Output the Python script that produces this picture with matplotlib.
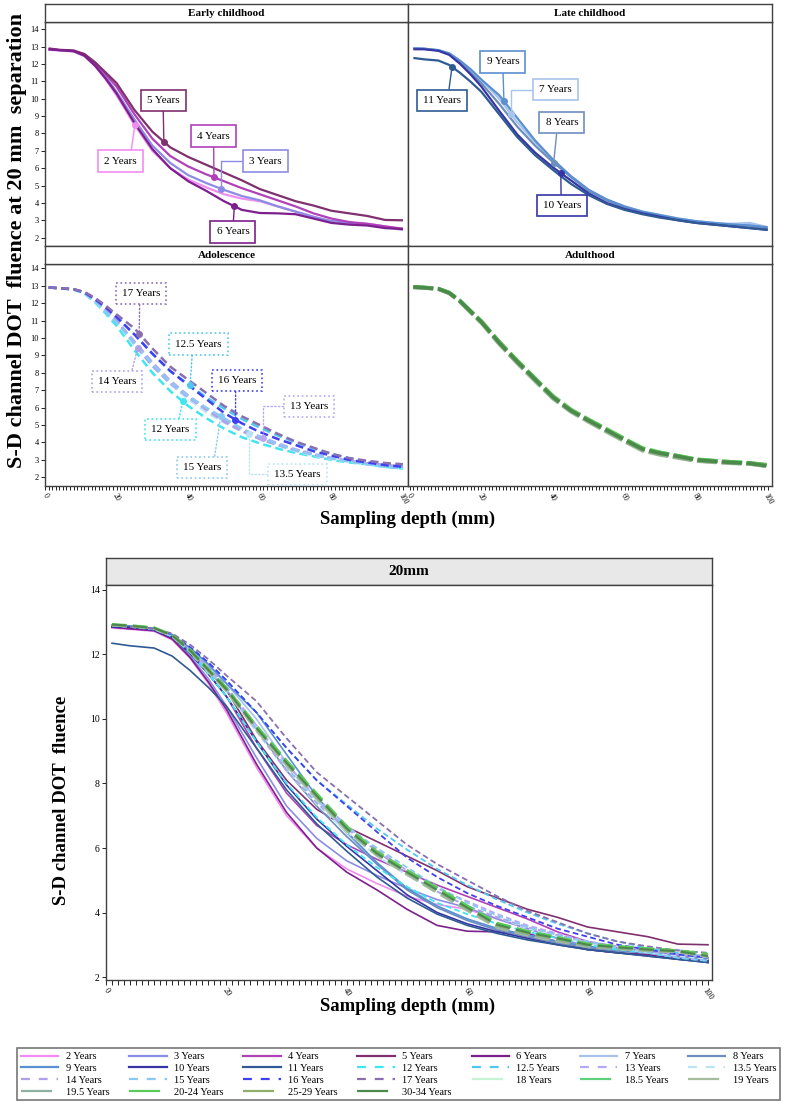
import numpy as np
import matplotlib.pyplot as plt
from matplotlib.lines import Line2D

plt.rcParams['font.family'] = ['Liberation Serif', 'DejaVu Serif']

# sampling depth (mm) at which the curves were read
depth = [1, 4, 8, 11, 14, 17, 20, 25, 30, 35, 40, 45, 50, 55, 60, 65, 70, 75, 80, 85, 90, 95, 100]

# early childhood
yr2 = [12.82, 12.78, 12.72, 12.45, 11.88, 11.1, 10.2, 8.5, 7.0, 6.0, 5.35, 4.9, 4.5, 4.25, 4.1, 3.8, 3.5, 3.2, 2.95, 2.85, 2.8, 2.65, 2.52]
yr3 = [12.85, 12.8, 12.74, 12.5, 11.95, 11.25, 10.4, 8.8, 7.3, 6.3, 5.6, 5.15, 4.75, 4.4, 4.15, 3.8, 3.5, 3.2, 2.95, 2.85, 2.75, 2.6, 2.45]
yr4 = [12.85, 12.8, 12.76, 12.55, 12.05, 11.4, 10.7, 9.1, 7.7, 6.7, 6.1, 5.65, 5.25, 4.85, 4.5, 4.15, 3.8, 3.4, 3.1, 2.9, 2.8, 2.65, 2.5]
yr5 = [12.9, 12.82, 12.78, 12.58, 12.1, 11.5, 10.9, 9.35, 8.1, 7.2, 6.65, 6.2, 5.75, 5.3, 4.8, 4.45, 4.1, 3.85, 3.55, 3.4, 3.25, 3.02, 3.0]
yr6 = [12.85, 12.8, 12.74, 12.48, 11.9, 11.15, 10.3, 8.6, 7.1, 6.0, 5.25, 4.7, 4.1, 3.6, 3.42, 3.4, 3.35, 3.1, 2.85, 2.75, 2.7, 2.55, 2.5]
# late childhood
yr7 = [12.9, 12.88, 12.8, 12.6, 12.15, 11.65, 11.1, 10.0, 8.65, 7.5, 6.45, 5.5, 4.75, 4.2, 3.8, 3.5, 3.3, 3.1, 2.95, 2.85, 2.8, 2.85, 2.6]
yr8 = [12.9, 12.88, 12.78, 12.57, 12.1, 11.5, 10.9, 9.7, 8.4, 7.3, 6.35, 5.5, 4.7, 4.15, 3.75, 3.45, 3.25, 3.05, 2.9, 2.8, 2.75, 2.7, 2.55]
yr9 = [12.9, 12.88, 12.8, 12.62, 12.2, 11.7, 11.1, 10.2, 8.9, 7.6, 6.5, 5.55, 4.75, 4.2, 3.8, 3.5, 3.3, 3.1, 2.95, 2.85, 2.75, 2.7, 2.6]
yr10 = [12.85, 12.85, 12.76, 12.53, 12.02, 11.4, 10.7, 9.3, 7.95, 6.9, 6.05, 5.3, 4.55, 4.0, 3.65, 3.4, 3.2, 3.0, 2.85, 2.75, 2.65, 2.55, 2.45]
yr11 = [12.35, 12.27, 12.2, 11.95, 11.5, 10.98, 10.4, 9.1, 7.8, 6.75, 5.9, 5.1, 4.45, 3.95, 3.6, 3.35, 3.15, 3.0, 2.85, 2.75, 2.65, 2.55, 2.45]
# adolescence
yr12 = [12.9, 12.86, 12.78, 12.55, 12.05, 11.4, 10.7, 9.3, 8.0, 6.95, 6.1, 5.4, 4.8, 4.3, 3.95, 3.65, 3.4, 3.2, 3.0, 2.85, 2.75, 2.6, 2.5]
yr12_5 = [12.9, 12.87, 12.8, 12.62, 12.22, 11.75, 11.2, 10.2, 9.1, 8.1, 7.35, 6.6, 5.95, 5.35, 4.85, 4.4, 4.0, 3.65, 3.35, 3.1, 2.9, 2.75, 2.65]
yr13 = [12.9, 12.86, 12.8, 12.6, 12.15, 11.6, 11.0, 9.8, 8.6, 7.55, 6.7, 5.95, 5.3, 4.75, 4.35, 3.95, 3.6, 3.35, 3.1, 2.95, 2.8, 2.7, 2.6]
yr13_5 = [12.9, 12.86, 12.78, 12.58, 12.1, 11.52, 10.9, 9.6, 8.4, 7.35, 6.5, 5.75, 5.15, 4.65, 4.2, 3.85, 3.5, 3.25, 3.05, 2.9, 2.75, 2.65, 2.55]
yr14 = [12.9, 12.86, 12.8, 12.6, 12.16, 11.6, 11.0, 9.65, 8.4, 7.4, 6.6, 5.9, 5.2, 4.65, 4.2, 3.85, 3.55, 3.3, 3.1, 2.95, 2.8, 2.7, 2.6]
yr15 = [12.9, 12.86, 12.78, 12.57, 12.1, 11.5, 10.9, 9.7, 8.5, 7.45, 6.65, 6.0, 5.4, 4.8, 4.3, 3.9, 3.55, 3.3, 3.1, 2.9, 2.75, 2.6, 2.5]
yr16 = [12.9, 12.86, 12.8, 12.62, 12.22, 11.75, 11.2, 10.2, 9.1, 8.1, 7.3, 6.5, 5.7, 5.1, 4.6, 4.2, 3.85, 3.5, 3.25, 3.0, 2.85, 2.7, 2.6]
yr17 = [12.9, 12.86, 12.8, 12.65, 12.3, 11.85, 11.35, 10.55, 9.4, 8.35, 7.6, 6.85, 6.1, 5.5, 5.0, 4.5, 4.05, 3.7, 3.35, 3.1, 2.95, 2.82, 2.75]
# adulthood
yr18 = [12.92, 12.88, 12.8, 12.56, 12.08, 11.45, 10.85, 9.65, 8.55, 7.5, 6.5, 5.75, 5.18, 4.62, 4.08, 3.58, 3.33, 3.15, 2.97, 2.9, 2.83, 2.78, 2.66]
yr18_5 = [12.93, 12.9, 12.83, 12.6, 12.14, 11.53, 10.95, 9.75, 8.68, 7.66, 6.64, 5.88, 5.3, 4.75, 4.2, 3.66, 3.42, 3.23, 3.03, 2.95, 2.88, 2.82, 2.7]
yr19 = [12.9, 12.87, 12.8, 12.56, 12.08, 11.46, 10.86, 9.64, 8.55, 7.52, 6.52, 5.76, 5.17, 4.6, 4.05, 3.52, 3.28, 3.1, 2.93, 2.86, 2.8, 2.76, 2.62]
yr19_5 = [12.91, 12.88, 12.81, 12.58, 12.1, 11.5, 10.9, 9.7, 8.6, 7.58, 6.56, 5.8, 5.22, 4.66, 4.1, 3.57, 3.32, 3.14, 2.95, 2.88, 2.82, 2.77, 2.64]
yr20_24 = [12.94, 12.91, 12.84, 12.62, 12.16, 11.56, 10.98, 9.8, 8.72, 7.7, 6.68, 5.9, 5.32, 4.78, 4.22, 3.68, 3.43, 3.24, 3.04, 2.96, 2.89, 2.83, 2.72]
yr25_29 = [12.92, 12.89, 12.82, 12.59, 12.12, 11.52, 10.92, 9.72, 8.64, 7.62, 6.6, 5.84, 5.26, 4.7, 4.14, 3.6, 3.36, 3.18, 2.99, 2.91, 2.85, 2.8, 2.68]
yr30_34 = [12.93, 12.89, 12.82, 12.59, 12.12, 11.52, 10.92, 9.72, 8.64, 7.62, 6.6, 5.83, 5.25, 4.7, 4.15, 3.62, 3.38, 3.2, 3.0, 2.92, 2.85, 2.8, 2.65]

# name, values, colour, line kind
series = [
    ("2 Years", yr2, "#f28cf0", "solid"),
    ("3 Years", yr3, "#8c8ce6", "solid"),
    ("4 Years", yr4, "#b041b8", "solid"),
    ("5 Years", yr5, "#80306e", "solid"),
    ("6 Years", yr6, "#7d1f8c", "solid"),
    ("7 Years", yr7, "#a8c4ec", "solid"),
    ("8 Years", yr8, "#6e8ebe", "solid"),
    ("9 Years", yr9, "#5b8fd0", "solid"),
    ("10 Years", yr10, "#3535a5", "solid"),
    ("11 Years", yr11, "#2f5a94", "solid"),
    ("12 Years", yr12, "#3fe6f0", "short"),
    ("12.5 Years", yr12_5, "#4fc8f0", "short"),
    ("13 Years", yr13, "#b8a8f4", "short"),
    ("13.5 Years", yr13_5, "#b8e4f4", "short"),
    ("14 Years", yr14, "#b0a0e8", "short"),
    ("15 Years", yr15, "#8cc8f4", "short"),
    ("16 Years", yr16, "#4040f0", "short"),
    ("17 Years", yr17, "#8a6fb0", "short"),
    ("18 Years", yr18, "#c6f2d6", "long"),
    ("18.5 Years", yr18_5, "#5cd07a", "long"),
    ("19 Years", yr19, "#a8bc9c", "long"),
    ("19.5 Years", yr19_5, "#8fb0a0", "long"),
    ("20-24 Years", yr20_24, "#58cc58", "long"),
    ("25-29 Years", yr25_29, "#8fae6a", "long"),
    ("30-34 Years", yr30_34, "#4a8a4a", "long"),
]
lookup = {s[0]: s for s in series}

groups = [
    ("Early childhood", ["2 Years", "3 Years", "4 Years", "5 Years", "6 Years"]),
    ("Late childhood", ["7 Years", "8 Years", "9 Years", "10 Years", "11 Years"]),
    ("Adolescence", ["12 Years", "12.5 Years", "13 Years", "13.5 Years", "14 Years",
                     "15 Years", "16 Years", "17 Years"]),
    ("Adulthood", ["18 Years", "18.5 Years", "19 Years", "19.5 Years", "20-24 Years",
                   "25-29 Years", "30-34 Years"]),
]

# callouts: name, depth of marker, box centre (x, y), relpos, connection
callouts = {
    "Early childhood": [
        ("5 Years", 33.2, 33.0, 9.92, (0.5, 0), None),
        ("4 Years", 47.2, 47.1, 7.85, (0.5, 0), None),
        ("3 Years", 49.1, 61.5, 6.41, (0, 0.5), "angle"),
        ("2 Years", 25.1, 21.1, 6.41, (0.8, 1), None),
        ("6 Years", 52.9, 52.5, 2.33, (0.5, 1), None),
    ],
    "Late childhood": [
        ("11 Years", 11.8, 8.9, 9.92, (0.67, 1), None),
        ("9 Years", 26.3, 26.0, 12.12, (0.5, 0), None),
        ("7 Years", 28.2, 40.8, 10.52, (0, 0.5), "angle"),
        ("8 Years", 40.2, 42.5, 8.63, (0.36, 0), None),
        ("10 Years", 42.2, 42.5, 3.83, (0.48, 1), None),
    ],
    "Adolescence": [
        ("17 Years", 26.3, 26.8, 12.56, (0.47, 0), None),
        ("14 Years", 25.9, 20.1, 7.52, (0.85, 1), None),
        ("12.5 Years", 40.5, 42.8, 9.65, (0.38, 0), None),
        ("16 Years", 53.2, 53.6, 7.58, (0.47, 0), None),
        ("12 Years", 38.5, 35.0, 4.73, (0.69, 1), None),
        ("15 Years", 49.1, 43.9, 2.57, (0.8, 1), None),
        ("13 Years", 61.0, 73.7, 6.08, (0, 0.5), "angle"),
        ("13.5 Years", 57.1, 70.5, 2.17, (0, 0.5), "angle"),
    ],
    "Adulthood": [],
}

W, H = 789, 1103
fig = plt.figure(figsize=(W / 100, H / 100), dpi=100)


def px_axes(x0, y0, x1, y1):
    return fig.add_axes([x0 / W, 1 - y1 / H, (x1 - x0) / W, (y1 - y0) / H])


def strip(x0, y0, x1, y1, text, fc="white", size=8):
    s = px_axes(x0, y0, x1, y1)
    s.set_facecolor(fc)
    s.set_xticks([])
    s.set_yticks([])
    for sp in s.spines.values():
        sp.set_color("#404040")
        sp.set_linewidth(1)
    s.text(0.5, 0.5, text, ha="center", va="center", fontsize=size,
           fontweight="bold", transform=s.transAxes)


def style_axis(ax):
    for sp in ax.spines.values():
        sp.set_color("#404040")
        sp.set_linewidth(1)


def line_kw(kind, panel):
    if kind == "solid":
        return dict(lw=1.6 if panel else 1.2, ls="-")
    if kind == "short":
        return dict(lw=1.8 if panel else 1.3, ls=(0, (3.2, 1.8)))
    return dict(lw=2.6 if panel else 1.5, ls=(0, (5.5, 1.3)) if panel else (0, (7, 3)))


boxes = [(45, 22, 408, 246), (408, 22, 772, 246), (45, 264, 408, 486), (408, 264, 772, 486)]

for i, ((title, names), (x0, y0, x1, y1)) in enumerate(zip(groups, boxes)):
    ax = px_axes(x0, y0, x1, y1)
    strip(x0, y0 - 18, x1, y0, title)
    style_axis(ax)
    left = i % 2 == 0
    bottom = i >= 2
    for n in names:
        _, vals, c, kind = lookup[n]
        ax.plot(depth, vals, color=c, solid_capstyle="butt", dash_capstyle="butt",
                solid_joinstyle="round", **line_kw(kind, True))
    for n, mx, tx, ty, rel, conn in callouts[title]:
        _, vals, c, kind = lookup[n]
        my = np.interp(mx, depth, vals)
        ax.plot([mx], [my], "o", color=c, ms=4, zorder=5)
        ls = ":" if kind == "short" else "-"
        cs = "angle,angleA=0,angleB=90,rad=0" if conn else "arc3"
        ax.annotate(n, xy=(mx, my), xytext=(tx, ty), textcoords="data",
                    ha="center", va="center", fontsize=8,
                    bbox=dict(boxstyle="square,pad=0.55", fc="white", ec=c, lw=1.2, ls=ls),
                    arrowprops=dict(arrowstyle="-", color=c, lw=1, ls=ls, relpos=rel,
                                    shrinkA=0, shrinkB=0, connectionstyle=cs),
                    zorder=6)
    if left:
        ax.set_xlim(0, 101.4)
        ax.set_yticks(range(2, 15))
        ax.tick_params(axis="y", labelsize=6, length=3, width=0.6, pad=1.5)
    else:
        ax.set_xlim(-0.5, 101.2)
        ax.set_yticks([])
    ax.set_ylim((1.5, 14.25) if bottom else (1.52, 14.42))
    if bottom:
        ax.set_xticks(range(0, 101, 20))
        ax.set_xticks(range(0, 101, 1), minor=True)
        ax.tick_params(axis="x", which="both", length=3, width=0.6, labelsize=5.5, pad=1)
        for lab in ax.get_xticklabels():
            lab.set_rotation(-60)
            lab.set_ha("center")
    else:
        ax.tick_params(axis="x", which="both", bottom=False, labelbottom=False)

fig.text(17 / W, 1 - 241 / H, "S-D channel DOT  fluence at 20 mm  separation",
         rotation=90, ha="center", va="center", fontsize=16, fontweight="bold")
fig.text(408 / W, 1 - 519 / H, "Sampling depth (mm)", ha="center", va="center",
         fontsize=13.5, fontweight="bold")

# all ages together
strip(106, 558, 712, 585, "20mm", fc="#e8e8e8", size=11)
bx = px_axes(106, 585, 712, 980)
style_axis(bx)
for n, vals, c, kind in series:
    bx.plot(depth, vals, color=c, solid_joinstyle="round", **line_kw(kind, False))
bx.set_xlim(0, 100.66)
bx.set_ylim(1.907, 14.155)
bx.set_yticks(range(2, 15, 2))
bx.set_xticks(range(0, 101, 20))
bx.set_xticks(range(0, 101, 1), minor=True)
bx.tick_params(axis="y", labelsize=7, length=3, width=0.6, pad=1.5)
bx.tick_params(axis="x", which="both", length=3.5, width=0.6, labelsize=6, pad=1)
for lab in bx.get_xticklabels():
    lab.set_rotation(-55)
    lab.set_ha("center")
fig.text(62 / W, 1 - 800 / H, "S-D channel DOT  fluence", rotation=90,
         ha="center", va="center", fontsize=13.5, fontweight="bold")
fig.text(408 / W, 1 - 1006 / H, "Sampling depth (mm)", ha="center", va="center",
         fontsize=13.5, fontweight="bold")

# legend laid out row by row across seven columns
ncol = 7
handles, labels = [], []
for col in range(ncol):
    for idx in range(col, len(series), ncol):
        n, vals, c, kind = series[idx]
        kw = line_kw(kind, False)
        if kind == "short":
            kw["ls"] = (0, (4, 4))
        elif kind == "long":
            kw["ls"] = (0, (14, 6))
        kw["lw"] = 1.6
        handles.append(Line2D([], [], color=c, **kw))
        labels.append(n)
leg = fig.legend(handles, labels, loc="upper left", ncol=ncol, mode="expand",
                 bbox_to_anchor=(12 / W, 1 - 1099 / H, 773 / W, 56 / H),
                 fontsize=7.5, handlelength=3.6, handletextpad=0.7,
                 labelspacing=0.25, borderpad=0.35, frameon=True, fancybox=False)
leg.get_frame().set_edgecolor("#555555")
leg.get_frame().set_linewidth(1.2)

fig.savefig("out.png", dpi=100)
